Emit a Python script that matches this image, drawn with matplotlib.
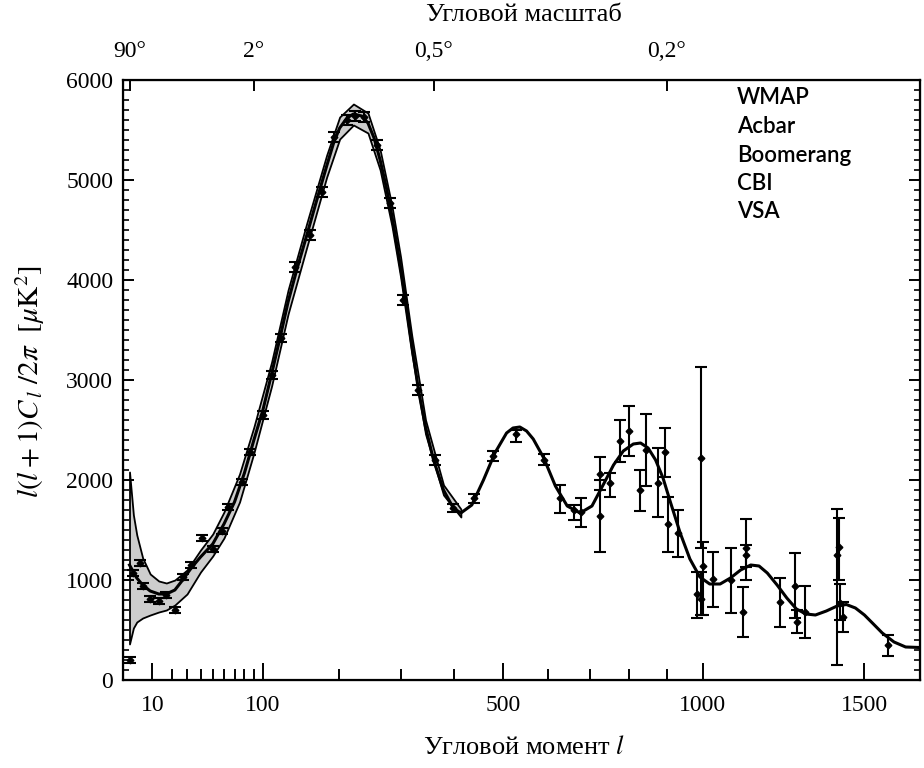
import numpy as np
import matplotlib.pyplot as plt
from matplotlib.ticker import FixedLocator, FixedFormatter, NullFormatter

plt.rcParams['font.family'] = ['Liberation Serif', 'DejaVu Serif']
plt.rcParams['mathtext.fontset'] = 'stix'

# model curve (best fit)
l_model = [2, 3, 4, 6, 9, 13, 17, 22, 27, 33, 40, 50, 60, 70, 80, 90, 100, 110, 120, 130,
           141, 154, 168, 182, 192, 201, 212, 222, 235, 245, 255, 265, 276, 285, 293, 300,
           310, 320, 332, 345, 360, 379, 398, 413, 435, 459, 483, 508, 522, 537, 552, 567,
           591, 618, 646, 677, 706, 735, 760, 785, 811, 830, 850, 870, 890, 910, 937, 964,
           992, 1020, 1050, 1080, 1110, 1140, 1165, 1190, 1220, 1250, 1280, 1310, 1340,
           1375, 1410, 1440, 1470, 1500, 1530, 1560, 1600, 1640, 1690]
D_model = [1150, 1080, 1020, 950, 890, 860, 860, 900, 1000, 1120, 1230, 1360, 1560, 1780,
           2070, 2400, 2700, 3060, 3420, 3780, 4100, 4440, 4800, 5140, 5370, 5520, 5620,
           5660, 5640, 5570, 5420, 5200, 4910, 4640, 4370, 4130, 3760, 3350, 2900, 2530,
           2200, 1900, 1720, 1670, 1750, 2000, 2270, 2470, 2520, 2530, 2490, 2410,
           2220, 1940, 1740, 1670, 1740, 1960, 2150, 2290, 2360, 2370, 2320, 2200, 2020,
           1780, 1470, 1210, 1030, 960, 960, 1020, 1100, 1150, 1140, 1070, 950, 820, 710,
           660, 650, 690, 740, 755, 720, 650, 560, 470, 380, 330, 325]

# cosmic variance band
l_band = [2, 3, 4, 6, 9, 13, 17, 22, 30, 40, 50, 60, 75, 90, 110, 130, 154, 182, 201,
          222, 245, 265, 285, 300, 320, 345, 379, 413]
band_hi = [2080, 1650, 1450, 1220, 1060, 990, 970, 1000, 1100, 1300, 1460, 1680, 2060,
           2530, 3180, 3900, 4560, 5250, 5630, 5760, 5670, 5300, 4740, 4230, 3440, 2600,
           1950, 1710]
band_lo = [360, 520, 580, 620, 650, 680, 700, 750, 860, 1080, 1240, 1420, 1780, 2270,
           2940, 3660, 4320, 5030, 5410, 5550, 5470, 5100, 4540, 4030, 3260, 2460, 1850,
           1630]

# measurements: l, value, lower end, upper end of error bar
l_pts = [2, 3, 5, 6, 9, 13, 17, 22, 27, 33, 41, 50, 58, 64, 77, 86, 100, 110, 121, 139,
         159, 175, 192, 212, 225, 238, 259, 282, 305, 332, 363, 398, 440, 480, 529, 591,
         628, 662, 679, 726, 726, 752, 777, 799, 828, 845, 876, 895, 903, 930, 985, 994,
         994, 1002, 1030, 1081, 1118, 1125, 1127, 1228, 1275, 1283, 1306, 1410, 1415,
         1418, 1429, 1580]
D_pts = [200, 1070, 1170, 940, 810, 790, 850, 700, 1030, 1150, 1420, 1310, 1490, 1730,
         1980, 2280, 2650, 3050, 3420, 4130, 4450, 4880, 5430, 5600, 5640, 5630, 5350,
         4770, 3800, 2900, 2200, 1717, 1817, 2240, 2460, 2200, 1817, 1700, 1683, 2060,
         1640, 1967, 2393, 2493, 1900, 2300, 1967, 2283, 1560, 1473, 860, 807, 2223, 1140,
         1007, 1000, 677, 1317, 1250, 777, 940, 583, 683, 1250, 1330, 770, 627, 350]
D_lo = [170, 1040, 1140, 910, 780, 760, 820, 670, 1000, 1120, 1390, 1280, 1460, 1700,
        1950, 2250, 2610, 3010, 3380, 4080, 4400, 4830, 5380, 5550, 5590, 5580, 5300,
        4720, 3750, 2850, 2150, 1680, 1770, 2190, 2380, 2150, 1673, 1600, 1533, 1900,
        1283, 1833, 2183, 2240, 1693, 1940, 1633, 2033, 1283, 1233, 617, 650, 1317, 650,
        733, 673, 427, 1000, 1130, 533, 617, 467, 417, 150, 1000, 600, 483, 240]
D_hi = [230, 1100, 1200, 970, 840, 820, 880, 730, 1060, 1180, 1450, 1340, 1520, 1760,
        2010, 2310, 2690, 3090, 3460, 4180, 4500, 4930, 5480, 5650, 5690, 5680, 5400,
        4820, 3850, 2950, 2250, 1760, 1860, 2290, 2500, 2260, 1950, 1750, 1817, 2233,
        2000, 2073, 2600, 2740, 2100, 2660, 2317, 2517, 1833, 1700, 1083, 1083, 3133,
        1383, 1283, 1317, 933, 1610, 1350, 1017, 1273, 700, 943, 1707, 1620, 960, 783,
        450]

experiments = ['WMAP', 'Acbar', 'Boomerang', 'CBI', 'VSA']

l_major = [10, 100, 500, 1000, 1500]
l_minor = [20, 30, 40, 50, 60, 70, 80, 90, 200, 300, 400, 600, 700, 800, 900]
angles = [90, 2, 0.5, 0.2]
angle_labels = ['90°', '2°', '0,5°', '0,2°']


def fwd(x):
    return np.sign(x) * np.abs(x) ** 0.6


def inv(x):
    return np.sign(x) * np.abs(x) ** (1 / 0.6)


fig = plt.figure(figsize=(9.24, 7.68), dpi=100)
ax = fig.add_axes([123 / 924, 1 - 680 / 768, 797 / 924, 600 / 768])
ax.set_xscale('function', functions=(fwd, inv))

ax.fill_between(l_band, band_lo, band_hi, facecolor='#cdcdcd', edgecolor='black', lw=1.3)
ax.plot(l_model, D_model, color='black', lw=2.2)

yerr = [np.array(D_pts) - np.array(D_lo), np.array(D_hi) - np.array(D_pts)]
ax.errorbar(l_pts, D_pts, yerr=yerr, fmt='D', ms=3.4, color='black', ecolor='black',
            elinewidth=1.5, capsize=4.5, capthick=1.5)

ax.set_xlim(0.713, 1690)
ax.set_ylim(0, 6000)

ax.xaxis.set_major_locator(FixedLocator(l_major))
ax.xaxis.set_major_formatter(FixedFormatter([str(v) for v in l_major]))
ax.xaxis.set_minor_locator(FixedLocator(l_minor))
ax.xaxis.set_minor_formatter(NullFormatter())
ax.tick_params(axis='x', which='major', direction='in', length=12, width=1.4,
               labelsize=17, pad=11, top=False)
ax.tick_params(axis='x', which='minor', direction='in', length=8, width=1.4, top=False)

ax.yaxis.set_major_locator(FixedLocator(range(0, 6001, 1000)))
ax.yaxis.set_minor_locator(FixedLocator(range(0, 6001, 100)))
ax.tick_params(axis='y', which='major', direction='in', length=8, width=1.4,
               labelsize=17, pad=7, left=True, right=True)
ax.tick_params(axis='y', which='minor', direction='in', length=4, width=1.2,
               left=True, right=True)
for s in ax.spines.values():
    s.set_linewidth(1.6)

top = ax.twiny()
top.set_xscale('function', functions=(fwd, inv))
top.set_xlim(ax.get_xlim())
top.xaxis.set_major_locator(FixedLocator([180.0 / a for a in angles]))
top.xaxis.set_major_formatter(FixedFormatter(angle_labels))
top.xaxis.set_minor_locator(FixedLocator([]))
top.tick_params(axis='x', which='major', direction='in', length=8, width=1.4,
                labelsize=17, pad=13)

fig.text(524 / 924, 1 - 15 / 768, 'Угловой масштаб', ha='center', va='center', fontsize=19)
fig.text(524 / 924, 1 - 748 / 768, 'Угловой момент $l$', ha='center', va='center',
         fontsize=19)
fig.text(30 / 924, 1 - 382 / 768, r'$l(l+1)C_{\,l}\ /2\pi\ \ [\mu\mathrm{K}^2]$',
         rotation=90, ha='center', va='center', fontsize=21)

for i, name in enumerate(experiments):
    fig.text(737 / 924, 1 - (98 + 28.5 * i) / 768, name, ha='left', va='center',
             fontsize=16, fontweight='semibold', family=['Lato', 'DejaVu Sans'])

fig.savefig('out.png', dpi=100)
